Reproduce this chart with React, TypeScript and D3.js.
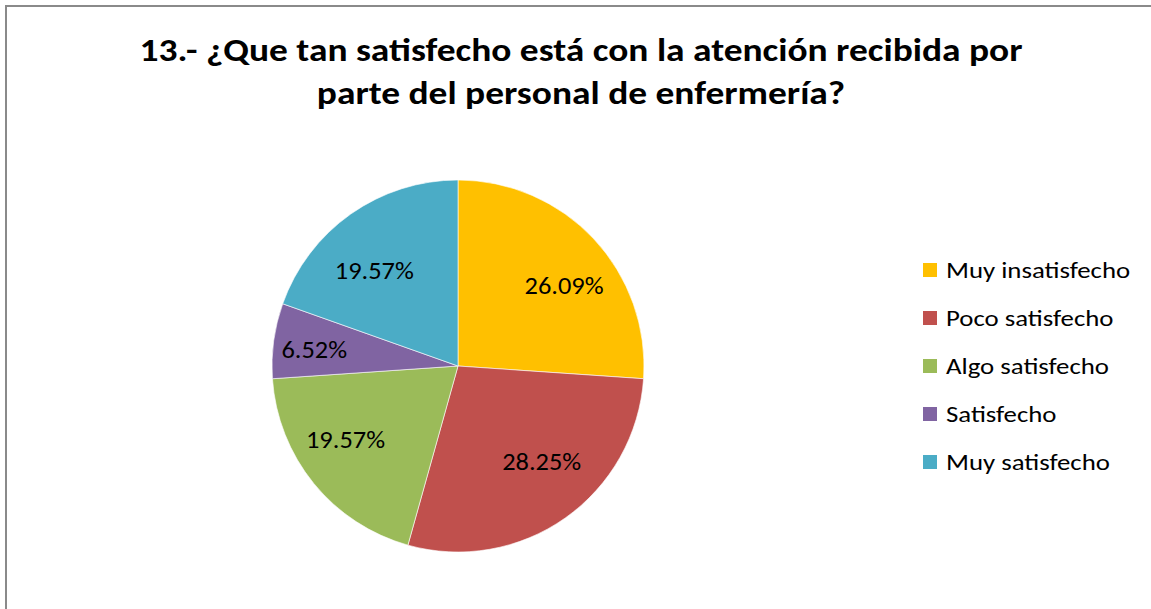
import React from "react";
import * as d3 from "d3";

const categories = ["Muy insatisfecho", "Poco satisfecho", "Algo satisfecho", "Satisfecho", "Muy satisfecho"];
const values = [26.09, 28.25, 19.57, 6.52, 19.57];
const colors = ["#FFC000", "#C0504D", "#9BBB59", "#8064A2", "#4BACC6"];
const titleLines = ["13.- ¿Que tan satisfecho está con la atención recibida por", "parte del personal de enfermería?"];

export default function App() {
  const W = 1151, H = 609;
  const cx = 458, cy = 366, R = 186;
  const pie = d3.pie<number>().sort(null).value((d) => d)(values);
  const arc = d3.arc<d3.PieArcDatum<number>>().innerRadius(0).outerRadius(R);
  const font = "Carlito, Calibri, Lato, 'Open Sans', sans-serif";
  const legendY = d3.scalePoint<string>().domain(categories).range([270, 462]);
  const rx = R * 0.78, ry = R * 0.63;
  return (
    <svg width={W} height={H} style={{ position: "absolute", left: 0, top: 0, display: "block" }}>
      <rect x={0} y={0} width={W} height={H} fill="#fff" />
      <rect x={6} y={6} width={W + 20} height={H + 20} fill="none" stroke="#8a8a8a" strokeWidth={2} />
      {titleLines.map((t, i) => (
        <text key={i} transform={`translate(581,${61 + i * 43}) scale(1.17,1)`} textAnchor="middle" fontFamily={font} fontWeight="bold" fontSize={32} fill="#000">
          {t}
        </text>
      ))}
      <g transform={`translate(${cx},${cy})`}>
        {pie.map((p, i) => (
          <path key={i} d={arc(p) || ""} fill={colors[i]} stroke="#fff" strokeWidth={0.6} />
        ))}
        {pie.map((p, i) => {
          const a = (p.startAngle + p.endAngle) / 2;
          const x = Math.sin(a) * rx;
          const y = -Math.cos(a) * ry;
          return (
            <text key={i} transform={`translate(${x},${y}) scale(1.1,1)`} dy="0.35em" textAnchor="middle" fontFamily={font} fontSize={24} fill="#000">
              {values[i].toFixed(2)}%
            </text>
          );
        })}
      </g>
      {categories.map((c, i) => (
        <g key={c} transform={`translate(923,${legendY(c)})`}>
          <rect x={0} y={-7} width={14} height={14} fill={colors[i]} />
          <text transform="translate(23,0) scale(1.22,1)" dy="0.35em" fontFamily={font} fontSize={22} fill="#000">
            {c}
          </text>
        </g>
      ))}
    </svg>
  );
}
